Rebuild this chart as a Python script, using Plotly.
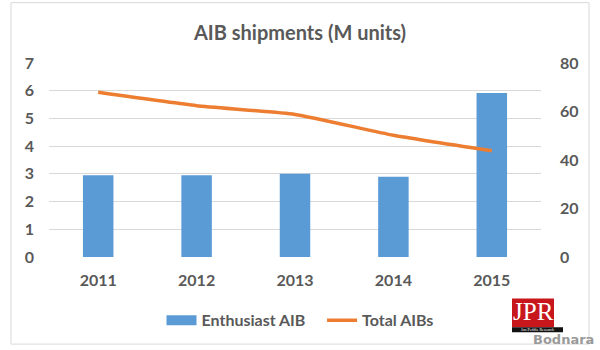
import plotly.graph_objects as go

# Data
years = ["2011", "2012", "2013", "2014", "2015"]
enthusiast_aib = [2.95, 2.95, 3.0, 2.9, 5.92]
total_aibs = [67.9, 62.4, 58.8, 50.2, 43.8]
left_ticks = [0, 1, 2, 3, 4, 5, 6, 7]
right_ticks = [0, 20, 40, 60, 80]

W, H = 600, 350
L, R, T, B = 49, 59, 63, 91
PW, PH = W - L - R, H - T - B


def px(x):
    return (x - L) / PW


def py(y):
    return (H - B - y) / PH


GREY = "#595959"
BLUE = "#5B9BD5"
ORANGE = "#ED7D31"
FONT = "Lato"

fig = go.Figure()
fig.add_trace(go.Bar(
    x=years, y=enthusiast_aib, name="Enthusiast AIB",
    marker=dict(color=BLUE, line=dict(width=0)),
    yaxis="y", showlegend=False,
))
# Wide swatch for the bar series in the legend
fig.add_trace(go.Scatter(
    x=[None], y=[None], name="Enthusiast AIB&nbsp;&nbsp;&nbsp;", mode="lines",
    line=dict(color=BLUE, width=10), yaxis="y",
))
fig.add_trace(go.Scatter(
    x=years, y=total_aibs, name="Total AIBs", mode="lines",
    line=dict(color=ORANGE, width=3.5, shape="spline", smoothing=0.5),
    yaxis="y2",
))

tick_font = dict(family=FONT, size=16, color=GREY, weight="bold")

fig.update_layout(
    width=W, height=H,
    margin=dict(l=L, r=R, t=T, b=B),
    paper_bgcolor="white", plot_bgcolor="white",
    bargap=0.69,
    showlegend=True,
    title=dict(
        text="<b>AIB shipments (M units)</b>",
        x=0.5, xref="container", xanchor="center",
        y=1 - 33 / H, yref="container", yanchor="middle",
        font=dict(family=FONT, size=20, color=GREY),
    ),
    legend=dict(
        orientation="h", x=px(300), xanchor="center",
        y=py(323), yanchor="middle",
        font=dict(family=FONT, size=16, color=GREY, weight="bold"),
        itemwidth=30, traceorder="normal",
        bgcolor="rgba(0,0,0,0)",
    ),
    xaxis=dict(
        showgrid=False, showline=False, zeroline=False,
        tickfont=tick_font, ticklabelstandoff=12,
    ),
    yaxis=dict(
        range=[0, 7], tickvals=left_ticks,
        showgrid=True, gridcolor="#d9d9d9", gridwidth=1,
        zeroline=False, showline=False,
        tickfont=tick_font, ticklabelstandoff=14,
    ),
    yaxis2=dict(
        range=[0, 80], tickvals=right_ticks, overlaying="y", side="right",
        showgrid=False, zeroline=False, showline=False,
        tickfont=tick_font, ticklabelstandoff=18,
    ),
)

# Chart frame
fig.add_shape(type="rect", xref="paper", yref="paper",
              x0=px(11), x1=px(589), y0=py(347), y1=py(2),
              line=dict(color="#d9d9d9", width=1), layer="below")

# JPR badge
fig.add_shape(type="rect", xref="paper", yref="paper",
              x0=px(512), x1=px(554), y0=py(330), y1=py(301),
              fillcolor="#c8161d", line=dict(width=0))
fig.add_shape(type="rect", xref="paper", yref="paper",
              x0=px(512), x1=px(563), y0=py(335), y1=py(330),
              fillcolor="#111111", line=dict(width=0))
fig.add_annotation(text="JPR", xref="paper", yref="paper",
                   x=px(533), y=py(314), xanchor="center", yanchor="middle",
                   showarrow=False,
                   font=dict(family="Liberation Serif", size=25, color="white"))
fig.add_annotation(text="Jon Peddie Research", xref="paper", yref="paper",
                   x=px(537), y=py(332), xanchor="center", yanchor="middle",
                   showarrow=False,
                   font=dict(family="Liberation Sans Narrow", size=4, color="white"))
fig.add_annotation(text="<b>Bodnara</b>", xref="paper", yref="paper",
                   x=px(563), y=py(342), xanchor="center", yanchor="middle",
                   showarrow=False,
                   font=dict(family="DejaVu Sans", size=13, color="#9a9a9a"))

fig.write_html("out.html")
